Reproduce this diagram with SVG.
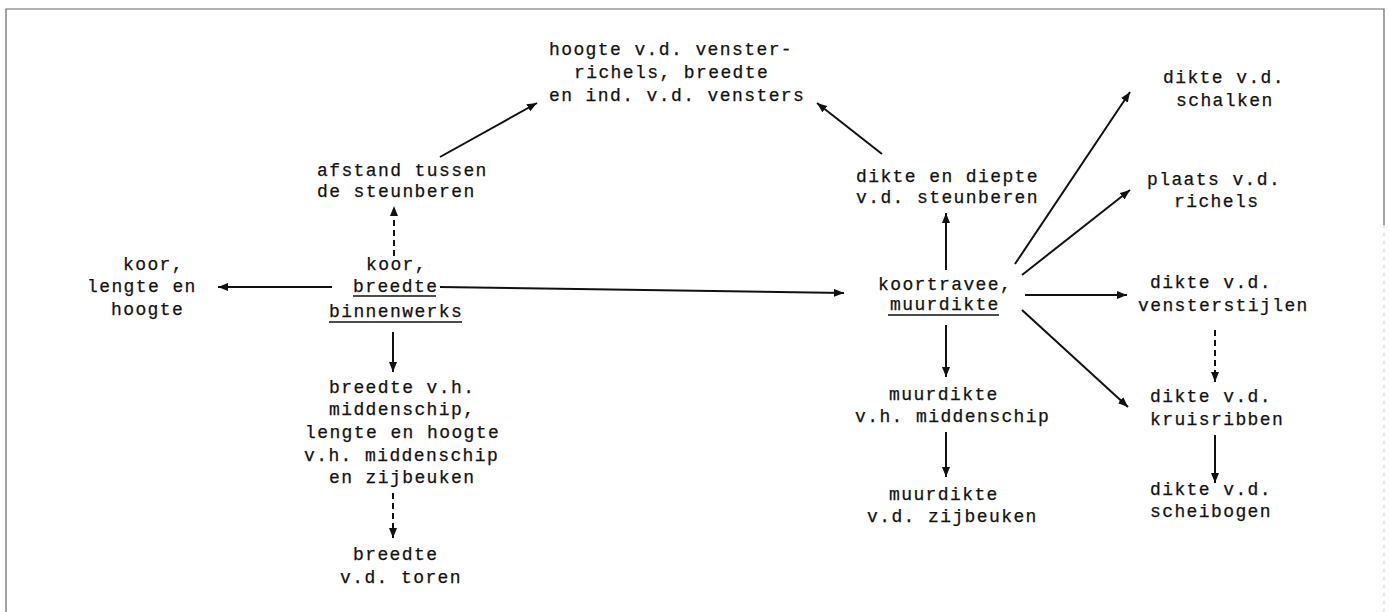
<svg xmlns="http://www.w3.org/2000/svg" width="1389" height="612" viewBox="0 0 1389 612">
<defs>
<style>
text{font-family:"Liberation Mono","DejaVu Sans Mono",monospace;font-size:18px;letter-spacing:1.4px;fill:#111;stroke:#111;stroke-width:0.25}
.c{stroke:#111;stroke-width:2;fill:none}
.d{stroke-dasharray:6,4}
.u{stroke:#111;stroke-width:1.6}
.f{stroke:#666;stroke-width:1.2;fill:none}
</style>
<marker id="ah" viewBox="0 0 10 8" refX="10" refY="4" markerWidth="10" markerHeight="8" markerUnits="userSpaceOnUse" orient="auto"><path d="M0,0 L10,4 L0,8 z" fill="#111"/></marker>
</defs>
<rect width="1389" height="612" fill="#fff"/>
<path class="f" d="M6,612 V9 H1384 V225"/>
<path d="M1384,225 V612" stroke="#ccc" stroke-width="1" stroke-dasharray="3,5"/>

<g id="n-vensters"><text x="549" y="55">hoogte v.d. venster-</text><text x="574" y="78">richels, breedte</text><text x="549" y="101">en ind. v.d. vensters</text></g>
<g id="n-afstand"><text x="317" y="176">afstand tussen</text><text x="317" y="197">de steunberen</text></g>
<g id="n-koorlengte"><text x="123" y="270">koor,</text><text x="87" y="292">lengte en</text><text x="111" y="315">hoogte</text></g>
<g id="n-koorbreedte"><text x="366" y="270">koor,</text><text x="353" y="292">breedte</text><text x="329" y="317">binnenwerks</text><line class="u" x1="353" y1="296" x2="436" y2="296"/><line class="u" x1="329" y1="322" x2="462" y2="322"/></g>
<g id="n-middenschip"><text x="329" y="393">breedte v.h.</text><text x="329" y="415">middenschip,</text><text x="305" y="438">lengte en hoogte</text><text x="304" y="461">v.h. middenschip</text><text x="329" y="483">en zijbeuken</text></g>
<g id="n-toren"><text x="353" y="560">breedte</text><text x="340" y="583">v.d. toren</text></g>
<g id="n-steunberen"><text x="856" y="182">dikte en diepte</text><text x="856" y="203">v.d. steunberen</text></g>
<g id="n-koortravee"><text x="878" y="290">koortravee,</text><text x="890" y="310">muurdikte</text><line class="u" x1="888" y1="315" x2="999" y2="315"/></g>
<g id="n-mmiddenschip"><text x="889" y="400">muurdikte</text><text x="855" y="422">v.h. middenschip</text></g>
<g id="n-mzijbeuken"><text x="889" y="500">muurdikte</text><text x="867" y="522">v.d. zijbeuken</text></g>
<g id="n-schalken"><text x="1163" y="83">dikte v.d.</text><text x="1176" y="106">schalken</text></g>
<g id="n-richels"><text x="1147" y="185">plaats v.d.</text><text x="1174" y="207">richels</text></g>
<g id="n-vensterstijlen"><text x="1150" y="288">dikte v.d.</text><text x="1138" y="311">vensterstijlen</text></g>
<g id="n-kruisribben"><text x="1150" y="402">dikte v.d.</text><text x="1150" y="425">kruisribben</text></g>
<g id="n-scheibogen"><text x="1150" y="495">dikte v.d.</text><text x="1150" y="517">scheibogen</text></g>

<g id="connectors">
<line class="c" x1="440" y1="157" x2="537" y2="103" marker-end="url(#ah)"/>
<line class="c" x1="882" y1="154" x2="817" y2="103" marker-end="url(#ah)"/>
<line class="c d" x1="394" y1="256" x2="394" y2="206" marker-end="url(#ah)"/>
<line class="c" x1="332" y1="287" x2="218" y2="287" marker-end="url(#ah)"/>
<line class="c" x1="440" y1="287" x2="844" y2="293" marker-end="url(#ah)"/>
<line class="c" x1="393" y1="332" x2="393" y2="372" marker-end="url(#ah)"/>
<line class="c d" x1="393" y1="493" x2="393" y2="538" marker-end="url(#ah)"/>
<line class="c" x1="946" y1="270" x2="946" y2="213" marker-end="url(#ah)"/>
<line class="c" x1="1015" y1="264" x2="1130" y2="92" marker-end="url(#ah)"/>
<line class="c" x1="1022" y1="275" x2="1130" y2="190" marker-end="url(#ah)"/>
<line class="c" x1="1025" y1="295" x2="1127" y2="295" marker-end="url(#ah)"/>
<line class="c" x1="1022" y1="310" x2="1128" y2="407" marker-end="url(#ah)"/>
<line class="c d" x1="1215" y1="330" x2="1215" y2="382" marker-end="url(#ah)"/>
<line class="c" x1="1215" y1="435" x2="1215" y2="483" marker-end="url(#ah)"/>
<line class="c" x1="946" y1="325" x2="946" y2="377" marker-end="url(#ah)"/>
<line class="c" x1="946" y1="432" x2="946" y2="477" marker-end="url(#ah)"/>
</g>
</svg>
